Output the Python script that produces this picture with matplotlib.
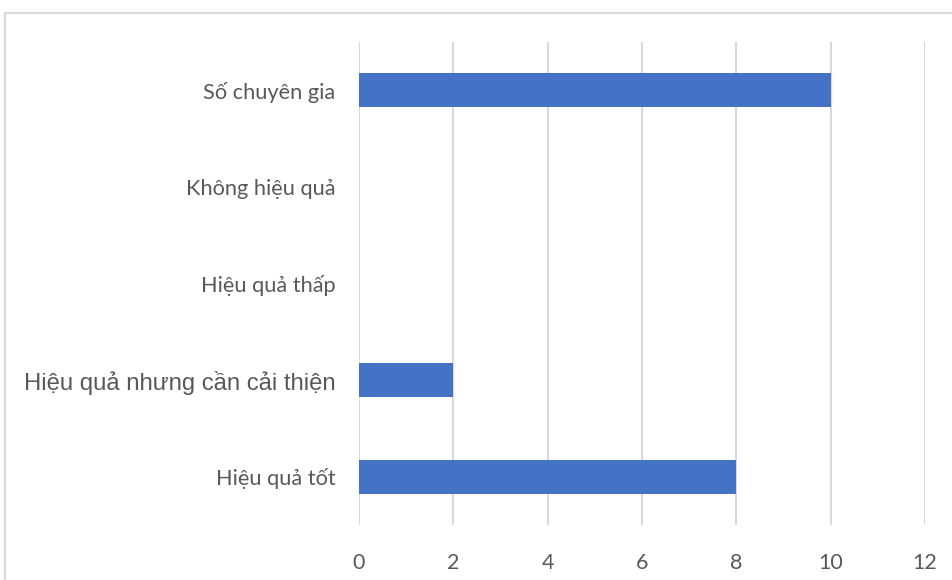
import matplotlib
matplotlib.use("Agg")
import matplotlib.pyplot as plt
from matplotlib.patches import Rectangle

categories = ["Hiệu quả tốt", "Hiệu quả nhưng cần cải thiện", "Hiệu quả thấp",
              "Không hiệu quả", "Số chuyên gia"]
values = [8, 2, 0, 0, 10]
x_ticks = [0, 2, 4, 6, 8, 10, 12]

bar_color = "#4472C4"
grid_color = "#D9D9D9"
text_color = "#595959"

fig = plt.figure(figsize=(9.53, 5.8), dpi=100)
ax = fig.add_axes([359 / 953, 55 / 580, 566 / 953, 483 / 580])

positions = list(range(len(categories)))
ax.barh(positions, values, height=0.355, color=bar_color, zorder=3)

ax.set_xlim(0, 12)
ax.set_ylim(-0.5, len(categories) - 0.5)
ax.set_xticks(x_ticks)
ax.set_xticklabels([str(t) for t in x_ticks], fontsize=15.5, family="Lato", color=text_color)
ax.set_yticks(positions)
ax.set_yticklabels(categories, fontsize=15.7, family="Lato", color=text_color)
for lbl in ax.get_yticklabels():
    if lbl.get_text() == "Hiệu quả nhưng cần cải thiện":
        lbl.set_family("Liberation Sans")
        lbl.set_fontsize(17.2)
ax.tick_params(axis="both", length=0)
ax.tick_params(axis="x", pad=20)
ax.tick_params(axis="y", pad=17)
ax.xaxis.grid(True, color=grid_color, linewidth=1.5, zorder=0)
ax.yaxis.grid(False)
for s in ax.spines.values():
    s.set_visible(False)

# outer chart frame, clipped by the canvas on the right and bottom
fig.patches.append(Rectangle((5 / 953, -0.1), 1.2, 1.1 - 13 / 580,
                             transform=fig.transFigure, fill=False,
                             edgecolor=grid_color, linewidth=1.5))

fig.savefig("out.png", dpi=100, facecolor="white")
